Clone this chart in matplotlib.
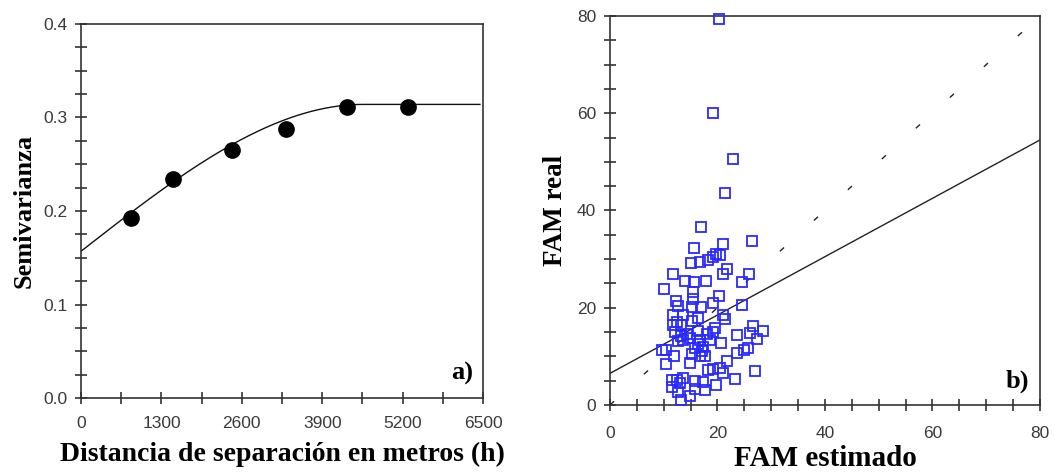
import numpy as np
import matplotlib
matplotlib.use("Agg")
import matplotlib.pyplot as plt
from matplotlib.ticker import MultipleLocator

# ---------------- Data: panel a) semivariogram ----------------
lag_dist = [808, 1481, 2434, 3312, 4308, 5288]
semivar = [0.193, 0.234, 0.265, 0.288, 0.3115, 0.3115]
# fitted spherical model parameters
nugget = 0.157
sill = 0.314
model_range = 4560
curve_max = 6450

# ---------------- Data: panel b) FAM estimado vs real ----------------
fam_est = [20.2, 19.2, 22.8, 21.4, 16.9, 26.4, 21.0, 15.7, 19.8, 20.5,
           19.1, 18.3, 16.7, 15.1, 21.7, 21.0, 11.8, 25.9, 14.0, 15.7,
           17.9, 24.5, 10.1, 15.5, 20.2, 15.5, 12.2, 19.2, 24.5, 12.6,
           15.3, 16.9, 11.8, 13.5, 21.0, 16.4, 21.4, 12.4, 15.3, 11.8,
           13.2, 26.7, 19.5, 28.5, 12.1, 16.4, 26.0, 18.0, 19.2, 23.6,
           13.2, 14.8, 27.3, 12.7, 16.7, 18.6, 20.7, 17.4, 15.8, 25.0,
           25.6, 9.6, 10.4, 23.6, 15.3, 16.7, 17.6, 11.9, 21.7, 14.9,
           10.4, 19.2, 18.3, 27.0, 20.5, 21.1, 23.3, 11.5, 12.4, 13.5,
           15.8, 17.4, 11.6, 19.7, 15.8, 17.6, 12.7, 14.9, 13.2, 13.0,
           13.5, 16.4, 17.1, 14.3]
fam_real = [79.3, 60.0, 50.5, 43.5, 36.5, 33.7, 33.2, 32.2, 31.1, 30.8,
            30.5, 29.8, 29.5, 29.1, 27.9, 26.9, 26.9, 26.9, 25.6, 25.2,
            25.5, 25.2, 23.8, 23.3, 22.4, 21.7, 21.3, 20.9, 20.6, 20.4,
            20.1, 20.2, 18.5, 18.6, 18.5, 17.8, 17.6, 17.1, 17.3, 16.5,
            16.5, 16.2, 15.8, 15.3, 15.1, 15.2, 14.9, 14.7, 15.1, 14.4,
            14.1, 13.7, 13.5, 13.2, 13.4, 13.4, 12.7, 12.0, 11.7, 11.4,
            11.7, 11.3, 11.4, 10.6, 10.4, 10.1, 10.1, 10.1, 9.1, 8.6,
            8.4, 7.5, 7.1, 7.0, 7.7, 6.6, 5.3, 5.1, 5.1, 5.5,
            4.9, 4.8, 3.8, 4.1, 3.2, 3.1, 2.7, 1.9, 1.0, 4.5,
            13.4, 12.5, 11.0, 14.7]
reg_intercept = 6.5
reg_slope = 0.60
one_to_one = [0, 80]

# ---------------- Figure ----------------
fig = plt.figure(figsize=(10.54, 4.74), dpi=100)
tick_font = {"family": "Liberation Sans", "size": 12.5}
label_font = dict(family="Liberation Serif", weight="bold")

def style_axes(ax):
    for sp in ax.spines.values():
        sp.set_linewidth(1.2)
        sp.set_color("#333333")
    ax.tick_params(which="both", direction="inout", length=8, width=1.1,
                   color="#222222", labelcolor="#3a3a3a")
    for lab in ax.get_xticklabels() + ax.get_yticklabels():
        lab.set_fontfamily(tick_font["family"])
        lab.set_fontsize(tick_font["size"])

# ---- panel a
ax1 = fig.add_axes([0.0769, 0.1603, 0.3814, 0.7891])
h = np.linspace(0, curve_max, 400)
hr = np.minimum(h / model_range, 1.0)
gam = nugget + (sill - nugget) * (1.5 * hr - 0.5 * hr ** 3)
ax1.plot(h, gam, color="#111111", lw=1.0)
ax1.plot(lag_dist, semivar, "o", color="black", markersize=11, zorder=3)
ax1.set_xlim(0, 6500)
ax1.set_ylim(0, 0.4)
ax1.xaxis.set_major_locator(MultipleLocator(1300))
ax1.xaxis.set_minor_locator(MultipleLocator(650))
ax1.yaxis.set_major_locator(MultipleLocator(0.1))
ax1.yaxis.set_minor_locator(MultipleLocator(0.025))
ax1.yaxis.set_major_formatter(matplotlib.ticker.FormatStrFormatter("%.1f"))
style_axes(ax1)
ax1.tick_params(axis="x", which="major", pad=9)
ax1.tick_params(axis="y", which="major", pad=6)
ax1.set_xlabel("Distancia de separación en metros (h)", labelpad=8,
               size=20, **label_font)
ax1.set_ylabel("Semivarianza", labelpad=5, size=19, **label_font)
ax1.text(0.975, 0.065, "a)", transform=ax1.transAxes, ha="right", va="center",
         family="Liberation Serif", weight="bold", size=19)

# ---- panel b
ax2 = fig.add_axes([0.5787, 0.1456, 0.4080, 0.8207])
xs = np.array([0, 80])
ax2.plot(xs, reg_intercept + reg_slope * xs, color="#222222", lw=1.0)
ax2.plot(one_to_one, one_to_one, color="#222222", lw=1.0,
         linestyle=(0, (4, 29)))
ax2.plot(fam_est, fam_real, "s", markerfacecolor="none",
         markeredgecolor="#2a2aff", markeredgewidth=1.3, markersize=7.5,
         zorder=3, clip_on=False)
ax2.set_xlim(0, 80)
ax2.set_ylim(0, 80)
ax2.xaxis.set_major_locator(MultipleLocator(20))
ax2.xaxis.set_minor_locator(MultipleLocator(5))
ax2.yaxis.set_major_locator(MultipleLocator(20))
ax2.yaxis.set_minor_locator(MultipleLocator(5))
style_axes(ax2)
ax2.tick_params(axis="x", which="major", pad=11)
ax2.tick_params(axis="y", which="major", pad=6)
ax2.set_xlabel("FAM estimado", labelpad=3, size=21, **label_font)
ax2.set_ylabel("FAM real", labelpad=6, size=19.5, **label_font)
ax2.text(0.975, 0.06, "b)", transform=ax2.transAxes, ha="right", va="center",
         family="Liberation Serif", weight="bold", size=19)

fig.savefig("out.png", dpi=100)
